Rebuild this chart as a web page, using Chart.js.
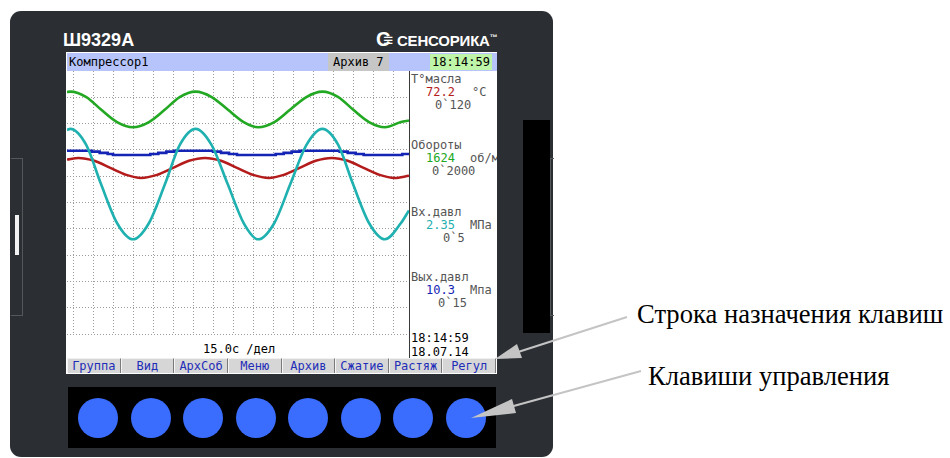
<!DOCTYPE html>
<html lang="ru">
<head>
<meta charset="utf-8">
<title>Ш9329А</title>
<script src="https://cdn.jsdelivr.net/npm/chart.js@4.4.1/dist/chart.umd.min.js"></script>
<style>
  body { margin:0; width:950px; height:458px; background:#fff; position:relative; overflow:hidden; }
  .a { position:absolute; white-space:nowrap; }
  .m { font-family:"DejaVu Sans Mono", monospace; font-size:12px; line-height:14px; }
  #device { left:10px; top:11px; width:543px; height:446px; background:#2b2e32; border-radius:11px; }
  #panel { left:410px; top:71px; width:87px; height:287px; overflow:hidden; }
  #panel div { position:absolute; white-space:nowrap; }
  .lbl { color:#555; }
  #buttons { left:67px; top:358px; width:429px; height:15px; display:flex; }
  #buttons div { flex:1; background:#d6d6d6; border-left:1px solid #f4f4f4; border-right:1px solid #7a7a7a;
                 border-top:1px solid #f0f0f0; color:#1f2db8; text-align:center; font-family:"DejaVu Sans Mono", monospace;
                 font-size:12px; line-height:14px; }
  #keys { left:68px; top:387px; width:428px; height:61px; background:#000; display:flex; justify-content:space-around; align-items:center; padding:0 4px; box-sizing:border-box; }
  #keys span { width:40px; height:40px; border-radius:50%; background:#3a6cfd; }
  .note { font-family:"Liberation Serif", serif; font-size:26.6px; color:#000; }
</style>
</head>
<body>
<div class="a" id="device"></div>
<div class="a" style="left:11px;top:158px;width:11px;height:156px;border:1px solid #55585b;border-left:none"></div>
<div class="a" style="left:15px;top:215px;width:4px;height:40px;background:#f2f2f2"></div>
<div class="a" style="left:523px;top:120px;width:27px;height:213px;background:#000"></div>
<div class="a" style="left:550px;top:158px;width:3px;height:156px;border:1px solid #55585b;border-right:none"></div>

<div class="a" style="left:63px;top:30px;color:#fff;font:bold 18px 'Liberation Sans',sans-serif">Ш9329А</div>
<div class="a" style="left:376px;top:28px;color:#fff;font:bold 15px 'Liberation Sans',sans-serif;letter-spacing:-0.2px">
  <span style="font-size:20px">C</span><span style="margin-left:-7px;font-size:17px">≡</span> СЕНСОРИКА<sup style="font-size:8px">™</sup>
</div>

<!-- экран -->
<div class="a" style="left:66px;top:52px;width:431px;height:322px;background:#fff"></div>
<div class="a" style="left:67px;top:53px;width:430px;height:18px;background:#b6c4fb"></div>
<div class="a m" style="left:69px;top:55px;color:#000">Компрессор1</div>
<div class="a m" style="left:328px;top:53px;width:61px;height:18px;background:#c6c6c6;color:#000;padding-left:5px;box-sizing:border-box;line-height:18px">Архив 7</div>
<div class="a m" style="left:430px;top:54px;width:62px;height:16px;background:#bff5a8;color:#000;text-align:center;line-height:16px">18:14:59</div>

<div class="a" style="left:67px;top:71px;width:342px;height:265px"><canvas id="trend" width="342" height="265"></canvas></div>
<div class="a" style="left:409px;top:71px;width:1px;height:287px;background:#3a3a3a"></div>

<div class="a m" id="panel">
  <div class="lbl" style="left:1px;top:1px">T°масла</div>
  <div style="left:16px;top:14px;color:#b41c1c">72.2</div>
  <div class="lbl" style="left:62px;top:14px">°С</div>
  <div class="lbl" style="left:25px;top:27px">0`120</div>
  <div class="lbl" style="left:1px;top:67px">Обороты</div>
  <div style="left:16px;top:80px;color:#22a822">1624</div>
  <div class="lbl" style="left:60px;top:80px">об/м</div>
  <div class="lbl" style="left:22px;top:93px">0`2000</div>
  <div class="lbl" style="left:1px;top:134px">Вх.давл</div>
  <div style="left:16px;top:147px;color:#1fb0b0">2.35</div>
  <div class="lbl" style="left:60px;top:147px">МПа</div>
  <div class="lbl" style="left:33px;top:160px">0`5</div>
  <div class="lbl" style="left:1px;top:199px">Вых.давл</div>
  <div style="left:16px;top:212px;color:#1424b4">10.3</div>
  <div class="lbl" style="left:60px;top:212px">Мпа</div>
  <div class="lbl" style="left:28px;top:225px">0`15</div>
  <div style="left:1px;top:260px;color:#000">18:14:59</div>
  <div style="left:1px;top:274px;color:#000">18.07.14</div>
</div>
<div class="a m" style="left:203px;top:342px;color:#000">15.0с /дел</div>

<div class="a" id="buttons">
  <div>Группа</div><div>Вид</div><div>АрхСоб</div><div>Меню</div>
  <div>Архив</div><div>Сжатие</div><div>Растяж</div><div>Регул</div>
</div>
<div class="a" id="keys"><span></span><span></span><span></span><span></span><span></span><span></span><span></span><span></span></div>

<div class="a note" style="left:637px;top:299px">Строка назначения клавиш</div>
<div class="a note" style="left:648px;top:361px">Клавиши управления</div>
<svg class="a" style="left:0;top:0" width="950" height="458">
  <g stroke="#c4c4c4" stroke-width="2" fill="#c4c4c4">
    <line x1="627" y1="317" x2="515" y2="353"/>
    <polygon points="495,359 522,358 517,344" stroke="none"/>
    <line x1="641" y1="371" x2="510" y2="407"/>
    <polygon points="471,418 516,413 512,399" stroke="none"/>
  </g>
</svg>

<script>
// время, с (15 с на деление)
const gridTimes = [0, 15, 30, 45, 60, 75, 90, 105, 120, 135, 150, 165, 180, 195, 210, 225, 240];
const gridTemp = [0, 12, 24, 36, 48, 60, 72, 84, 96, 108];

const waveTimes = [-4.5, -2, 10, 21, 33, 45, 57, 69, 80, 92, 104, 116, 128, 139, 151, 163, 175, 187, 199, 210, 222, 234, 246, 252];
const rpmValues = [1840, 1843, 1802, 1707, 1612, 1572, 1612, 1707, 1802, 1843, 1802, 1707, 1612, 1572, 1612, 1707, 1802, 1843, 1802, 1707, 1612, 1572, 1612, 1624];
const inPressValues = [3.88, 3.90, 3.59, 2.85, 2.11, 1.80, 2.11, 2.85, 3.59, 3.90, 3.59, 2.85, 2.11, 1.80, 2.11, 2.85, 3.59, 3.90, 3.59, 2.85, 2.11, 1.80, 2.11, 2.35];

const tempTimes = [-4.5, 4, 16, 28, 40, 51, 63, 75, 87, 99, 111, 123, 135, 147, 158, 170, 182, 194, 206, 218, 230, 241, 252];
const tempValues = [79.6, 80.3, 79.0, 75.8, 72.6, 71.2, 72.6, 75.8, 79.0, 80.3, 79.0, 75.8, 72.6, 71.2, 72.6, 75.8, 79.0, 80.3, 79.0, 75.8, 72.6, 71.2, 72.2];

const outPressTimes = [-4.5, 14, 20, 26, 30, 58, 64, 70, 76, 105, 111, 117, 123, 152, 158, 164, 170, 200, 206, 212, 218, 247, 252];
const outPressValues = [10.45, 10.40, 10.33, 10.27, 10.21, 10.27, 10.33, 10.40, 10.45, 10.40, 10.33, 10.27, 10.21, 10.27, 10.33, 10.40, 10.45, 10.40, 10.33, 10.27, 10.21, 10.27, 10.27];

const pts = (xs, ys) => xs.map((x, i) => ({ x: x, y: ys[i] }));

const ctx = document.getElementById('trend').getContext('2d');
new Chart(ctx, {
    type: 'line',
    data: {
        datasets: [
            { label: 'Вх.давл', data: pts(waveTimes, inPressValues), borderColor: '#1fb0b0', yAxisID: 'yP1' },
            { label: 'Вых.давл', data: pts(outPressTimes, outPressValues), borderColor: '#1424b4', yAxisID: 'yP2', stepped: true },
            { label: 'T°масла', data: pts(tempTimes, tempValues), borderColor: '#b41c1c', yAxisID: 'yT' },
            { label: 'Обороты', data: pts(waveTimes, rpmValues), borderColor: '#22a822', yAxisID: 'yN' }
        ]
    },
    options: {
        responsive: false,
        animation: false,
        layout: { padding: { bottom: 2 } },
        plugins: { legend: { display: false }, tooltip: { enabled: false } },
        elements: {
            point: { radius: 0 },
            line: { borderWidth: 2.6, cubicInterpolationMode: 'monotone', fill: false }
        },
        scales: {
            x: {
                type: 'linear', min: -4.5, max: 252,
                ticks: { display: false },
                grid: { drawTicks: false, color: '#9c9c9c', lineWidth: 1 },
                border: { display: false, dash: [1, 2] },
                afterBuildTicks: s => { s.ticks = gridTimes.map(v => ({ value: v })); }
            },
            yT: {
                position: 'left', min: 0, max: 120,
                ticks: { display: false },
                grid: { drawTicks: false, color: '#9c9c9c', lineWidth: 1 },
                border: { display: false, dash: [1, 2] },
                afterBuildTicks: s => { s.ticks = gridTemp.map(v => ({ value: v })); }
            },
            yN: { display: false, min: 0, max: 2000 },
            yP1: { display: false, min: 0, max: 5 },
            yP2: { display: false, min: 0, max: 15 }
        }
    }
});
</script>
</body>
</html>
